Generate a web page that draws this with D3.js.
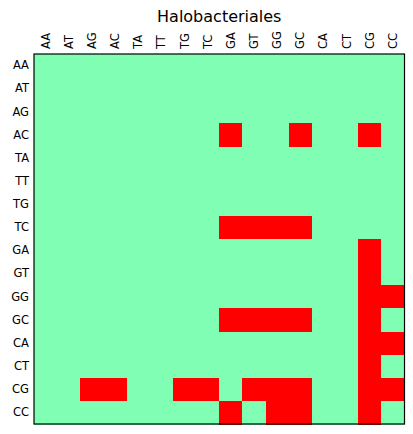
<!DOCTYPE html>
<html><head><meta charset="utf-8">
<script src="https://cdn.jsdelivr.net/npm/d3@7"></script>
<style>body{margin:0;background:#fff}svg{display:block}text{font-family:"DejaVu Sans",sans-serif;fill:#000}</style>
</head><body><svg id="c" width="413" height="434"></svg>
<script>
const labels = ["AA","AT","AG","AC","TA","TT","TG","TC","GA","GT","GG","GC","CA","CT","CG","CC"];
const title = "Halobacteriales";
// red cells per row (row label -> column labels with value 1)
const redAC = ["GA","GC","CG"];
const redTC = ["GA","GT","GG","GC"];
const redGA = ["CG"];
const redGT = ["CG"];
const redGG = ["CG","CC"];
const redGC = ["GA","GT","GG","GC","CG"];
const redCA = ["CG","CC"];
const redCT = ["CG"];
const redCG = ["AG","AC","TG","TC","GT","GG","GC","CG","CC"];
const redCC = ["GA","GG","GC","CG"];
const redRows = {AC:redAC,TC:redTC,GA:redGA,GT:redGT,GG:redGG,GC:redGC,CA:redCA,CT:redCT,CG:redCG,CC:redCC};

const cells = [];
labels.forEach(r => labels.forEach(c => cells.push({r, c, v: (redRows[r]||[]).includes(c) ? 1 : 0})));

const svg = d3.select("#c");
const L = 34, T = 54, W = 370.5, H = 370;
const x = d3.scaleBand().domain(labels).range([L, L+W]);
const y = d3.scaleBand().domain(labels).range([T, T+H]);
const color = v => v ? "#ff0000" : "#80ffb4";

svg.append("g").attr("shape-rendering", "crispEdges").selectAll("rect").data(cells).join("rect")
  .attr("x", d => x(d.c)).attr("y", d => y(d.r))
  .attr("width", x.bandwidth()+0.5).attr("height", y.bandwidth()+0.5)
  .attr("fill", d => color(d.v));

svg.append("rect").attr("x", L).attr("y", T).attr("width", W).attr("height", H)
  .attr("fill", "none").attr("stroke", "#000").attr("stroke-width", 1.2);

const ax = svg.append("g").attr("transform", `translate(0,${T})`)
  .call(d3.axisTop(x).tickSize(0).tickPadding(5));
ax.select(".domain").remove();
ax.selectAll("text").attr("font-size", 11.5).attr("font-family", "DejaVu Sans")
  .attr("transform", "rotate(-90)").attr("text-anchor", "start")
  .attr("x", 5).attr("y", 0).attr("dy", "0.35em");

const ay = svg.append("g").attr("transform", `translate(${L},0)`)
  .call(d3.axisLeft(y).tickSize(0).tickPadding(5));
ay.select(".domain").remove();
ay.selectAll("text").attr("font-size", 11.5).attr("font-family", "DejaVu Sans");

svg.append("text").attr("x", L + W/2).attr("y", 22).attr("text-anchor", "middle")
  .attr("font-size", 16).text(title);
</script></body></html>
